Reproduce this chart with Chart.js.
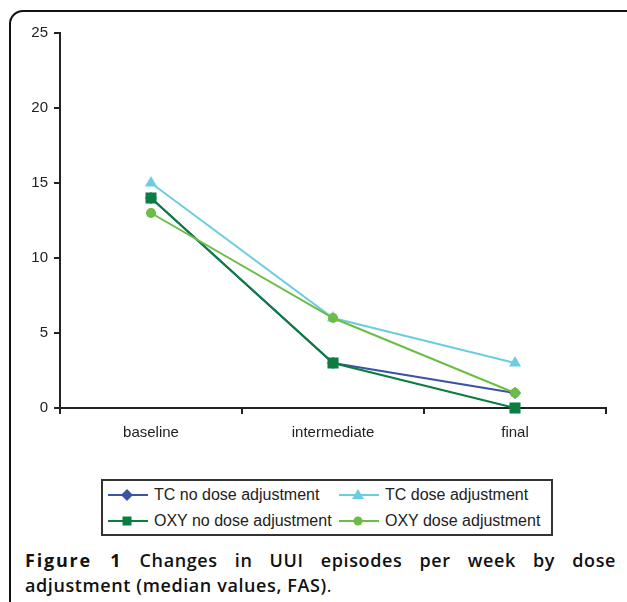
<!DOCTYPE html>
<html><head><meta charset="utf-8">
<script src="https://cdn.jsdelivr.net/npm/chart.js@4/dist/chart.umd.min.js"></script>
<style>
html,body{margin:0;padding:0;background:#fff;width:627px;height:602px;overflow:hidden;position:relative;}
#frame{position:absolute;left:9px;top:10px;width:640px;height:640px;border:2px solid #111;border-radius:14px;box-sizing:border-box;}
#wrap{position:absolute;left:0;top:0;width:627px;height:460px;}
#legend{position:absolute;left:101px;top:479px;width:452px;height:57px;border:2px solid #333;box-sizing:border-box;font-family:"Liberation Sans",Arial,sans-serif;font-size:16px;color:#222;}
.item{position:absolute;height:20px;display:flex;align-items:center;white-space:nowrap;}
.item svg{margin-right:6px;}
.cap{position:absolute;left:25px;width:591px;font-family:"Open Sans",sans-serif;font-size:18px;color:#111;font-weight:600;letter-spacing:0.6px;white-space:nowrap;}
#c1{top:548px;text-align:justify;text-align-last:justify;white-space:normal;}
#c2{top:573px;}
</style></head>
<body>
<div id="frame"></div>
<div id="wrap"><canvas id="chart" width="627" height="460"></canvas></div>
<div id="legend"></div>
<div class="cap" id="c1"><b style="font-weight:700;letter-spacing:1.8px">Figure 1</b> Changes in UUI episodes per week by dose</div>
<div class="cap" id="c2">adjustment (median values, FAS)<span style="font-weight:400">.</span></div>
<script>
const categories = ["baseline", "intermediate", "final"];
const tcNoDose = [14, 3, 1];
const tcDose = [15, 6, 3];
const oxyNoDose = [14, 3, 0];
const oxyDose = [13, 6, 1];
const yTicks = [0, 5, 10, 15, 20, 25];

const series = [
  {label:"OXY dose adjustment", data:oxyDose, color:"#6cbd45", style:"circle", r:5},
  {label:"OXY no dose adjustment", data:oxyNoDose, color:"#0a7d40", style:"rect", r:7.8},
  {label:"TC dose adjustment", data:tcDose, color:"#6dcde0", style:"triangle", r:7},
  {label:"TC no dose adjustment", data:tcNoDose, color:"#3a53a4", style:"rectRot", r:6}
];

const font = {family:'"Liberation Sans", Arial, sans-serif', size:15};
new Chart(document.getElementById('chart'), {
  type:'line',
  data:{labels:categories, datasets:series.map(s=>({
    label:s.label, data:s.data, borderColor:s.color, backgroundColor:s.color,
    pointStyle:s.style, pointRadius:s.r, pointBorderWidth:0, borderWidth:2,
    pointBackgroundColor:s.color, tension:0, fill:false, clip:false
  }))},
  options:{
    responsive:false, animation:false, devicePixelRatio:1,
    layout:{padding:{top:33,right:21,bottom:0,left:0}},
    plugins:{legend:{display:false}, tooltip:{enabled:false}},
    scales:{
      x:{type:'category', offset:true,
        grid:{display:true, offset:true, drawOnChartArea:false, drawTicks:true, tickLength:6, color:'#222', lineWidth:2},
        border:{display:true, color:'#222', width:2},
        ticks:{font:font, color:'#222', padding:10},
        afterFit:s=>{s.height=52;}
      },
      y:{min:0, max:25, afterBuildTicks:s=>{s.ticks=yTicks.map(v=>({value:v}));},
        grid:{display:true, drawOnChartArea:false, drawTicks:true, tickLength:6, color:'#222', lineWidth:2},
        border:{display:true, color:'#222', width:2},
        ticks:{font:font, color:'#222', padding:6},
        afterFit:s=>{s.width=60;}
      }
    }
  }
});

// HTML legend
const legendOrder = [
  {s:series[3], x:5, y:4},
  {s:series[2], x:236, y:4},
  {s:series[1], x:5, y:30},
  {s:series[0], x:236, y:30}
];
function markerSvg(s){
  let m='';
  const c=s.color;
  if(s.style==='rectRot') m=`<polygon points="19,4 25,10 19,16 13,10" fill="${c}"/>`;
  if(s.style==='triangle') m=`<polygon points="19,4 25,14 13,14" fill="${c}"/>`;
  if(s.style==='rect') m=`<rect x="14.5" y="5.5" width="9" height="9" fill="${c}"/>`;
  if(s.style==='circle') m=`<circle cx="19" cy="10" r="4.5" fill="${c}"/>`;
  return `<svg width="40" height="20"><line x1="0" y1="10" x2="40" y2="10" stroke="${c}" stroke-width="2"/>${m}</svg>`;
}
const lg=document.getElementById('legend');
legendOrder.forEach(o=>{
  const d=document.createElement('div');
  d.className='item';
  d.style.left=o.x+'px'; d.style.top=o.y+'px';
  d.innerHTML=markerSvg(o.s)+'<span>'+o.s.label+'</span>';
  lg.appendChild(d);
});
</script>
</body></html>
